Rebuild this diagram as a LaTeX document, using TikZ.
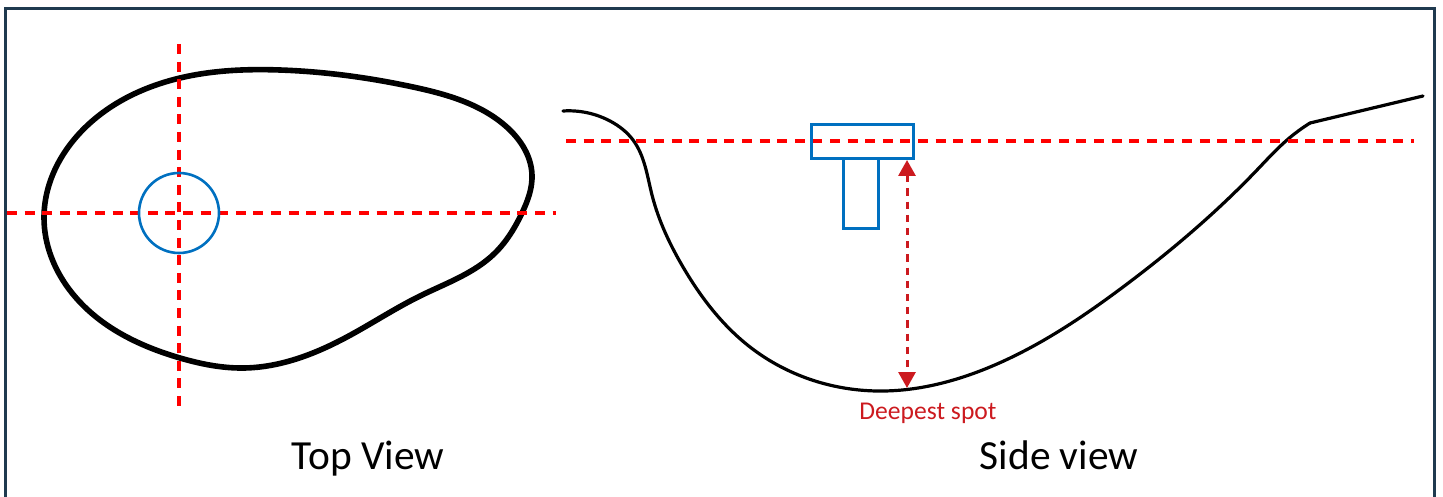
\documentclass[tikz,border=0pt]{standalone}
\usepackage{fontspec}
\setmainfont{Carlito}
\usetikzlibrary{arrows.meta,hobby}
\definecolor{frame}{HTML}{1F3A4F}
\definecolor{guide}{HTML}{FF0000}
\definecolor{measure}{HTML}{CC1A1F}
\definecolor{probe}{HTML}{0070C0}
\tikzset{
  guideline/.style={draw=guide, line width=1.6pt, dash pattern=on 5pt off 3.8pt},
  measureline/.style={draw=measure, line width=1.5pt, dash pattern=on 3.6pt off 3pt,
     {Triangle[width=8.5pt,length=8pt]}-{Triangle[width=8.5pt,length=8pt]}},
  probeline/.style={draw=probe, line width=1.3pt},
  label/.style={font=\fontsize{20.7}{24}\selectfont, anchor=base, inner sep=0pt},
}
\begin{document}
\begin{tikzpicture}[x=0.5pt,y=-0.5pt]
\useasboundingbox (0,0) rectangle (1443,497);
% frame
\draw[frame, line width=1.3pt] (5.5,497) -- (5.5,8.5) -- (1434.5,8.5) -- (1434.5,497);

% ---------- top view ----------
\draw[black, line width=2.8pt, line join=round, use Hobby shortcut, closed=true]
   (280,70) .. (413,87) .. (502,123) .. (532,175) .. (522,213) .. (495,253) .. (420,296)
   .. (345,338) .. (244,368) .. (180,358) .. (72,293) .. (44,217) .. (90,123) .. (180,78);
\coordinate (vt) at (179,44);
\coordinate (vb) at (179,409);
\coordinate (hl) at (7,213);
\coordinate (hr) at (556,213);
\draw[guideline] (vt) -- (vb);
\draw[guideline] (hl) -- (hr);
\node[probeline, circle, minimum size=40pt, inner sep=0pt] (hole) at (179,213) {};

% ---------- side view ----------
\draw[black, line width=1.6pt, line cap=round, use Hobby shortcut]
   (563,111) .. (610,121) .. (633,140) .. (652,195) .. (683,267) .. (750,347) .. (877,391)
   .. (990,367) .. (1123,287) .. (1257,170) .. (1287,140) .. (1310,123);
\draw[black, line width=1.6pt, line cap=round] (1310,123) -- (1423,96);
\coordinate (sl) at (566,141);
\coordinate (sr) at (1414,141);
\draw[guideline] (sl) -- (sr);
\node[probeline, rectangle, minimum width=51pt, minimum height=17pt, inner sep=0pt, anchor=north west] (head) at (810,123) {};
\node[probeline, rectangle, minimum width=17.5pt, minimum height=35pt, inner sep=0pt, anchor=north west] (stem) at (842,157) {};
\coordinate (atop) at (907,160);
\coordinate (abot) at (907,388);
\draw[measureline] (atop) -- (abot);

% ---------- labels ----------
\node[label, text=measure, font=\fontsize{12.8}{15}\selectfont] (deep) at (928,419) {Deepest spot};
\node[label] (topview) at (368,469) {Top View};
\node[label] (sideview) at (1059,469) {Side view};
\end{tikzpicture}
\end{document}
